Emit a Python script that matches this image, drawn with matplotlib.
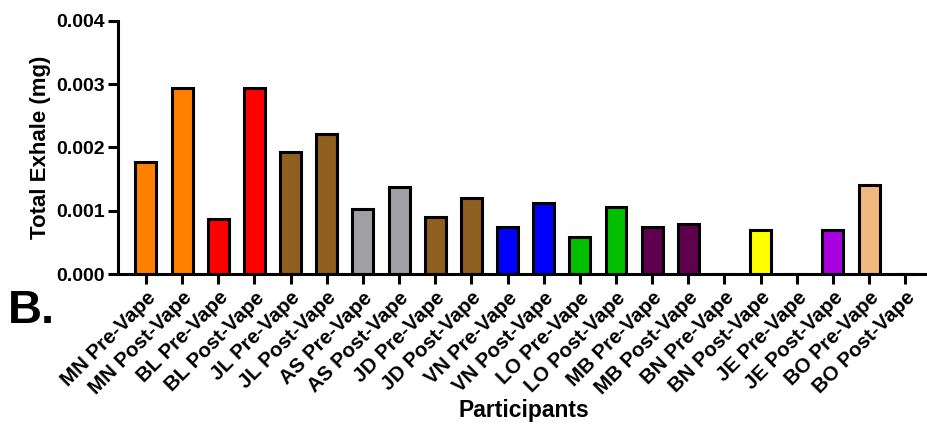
import matplotlib
matplotlib.use("Agg")
import matplotlib.pyplot as plt

plt.rcParams['font.family'] = ['Liberation Sans', 'DejaVu Sans']
plt.rcParams['font.weight'] = 'bold'

labels = [
    "MN Pre-Vape", "MN Post-Vape", "BL Pre-Vape", "BL Post-Vape",
    "JL Pre-Vape", "JL Post-Vape", "AS Pre-Vape", "AS Post-Vape",
    "JD Pre-Vape", "JD Post-Vape", "VN Pre-Vape", "VN Post-Vape",
    "LO Pre-Vape", "LO Post-Vape", "MB Pre-Vape", "MB Post-Vape",
    "BN Pre-Vape", "BN Post-Vape", "JE Pre-Vape", "JE Post-Vape",
    "BO Pre-Vape", "BO Post-Vape",
]
exhale_mg = [
    0.00177, 0.00294, 0.00087, 0.00294,
    0.00193, 0.00221, 0.00103, 0.00138,
    0.00090, 0.00120, 0.00074, 0.00112,
    0.00058, 0.00106, 0.00074, 0.00079,
    0.0, 0.00070, 0.0, 0.00070,
    0.00140, 0.0,
]
bar_colors = [
    "#FF8000", "#FF8000", "#FF0000", "#FF0000",
    "#8F5F1F", "#8F5F1F", "#A0A0A4", "#A0A0A4",
    "#8F5F1F", "#8F5F1F", "#0000FF", "#0000FF",
    "#00C000", "#00C000", "#5F004F", "#5F004F",
    "#FFFF00", "#FFFF00", "#A800E0", "#A800E0",
    "#F0B87C", "#F0B87C",
]
y_ticks = [0.000, 0.001, 0.002, 0.003, 0.004]

fig = plt.figure(figsize=(9.27, 4.25), dpi=100)
ax = fig.add_axes([0.127, 0.355, 0.871, 0.596])

x = list(range(len(labels)))
ax.bar(x, exhale_mg, width=0.58, color=bar_colors,
       edgecolor="black", linewidth=2.2)

ax.set_ylim(0, 0.004)
ax.set_xlim(-0.78, 21.55)
ax.set_yticks(y_ticks)
ax.set_yticklabels([f"{v:.3f}" for v in y_ticks], fontsize=14, fontweight='bold')
ax.set_xticks(x)
ax.set_xticklabels(labels, rotation=45, ha='right', rotation_mode='anchor',
                   fontsize=14.8, fontweight='bold')

for side in ("top", "right"):
    ax.spines[side].set_visible(False)
for side in ("left", "bottom"):
    ax.spines[side].set_linewidth(2.2)
ax.tick_params(axis='both', width=2.2, length=7, color='black')
ax.tick_params(axis='x', pad=3)
ax.tick_params(axis='y', pad=2)

ax.set_ylabel("Total Exhale (mg)", fontsize=16, fontweight='bold', labelpad=4)
fig.text(0.565, 0.035, "Participants", ha='center', va='center',
         fontsize=16.5, fontweight='bold')
fig.text(0.008, 0.268, "B.", ha='left', va='center',
         fontsize=34, fontweight='bold')

fig.savefig("out.png", dpi=100)
